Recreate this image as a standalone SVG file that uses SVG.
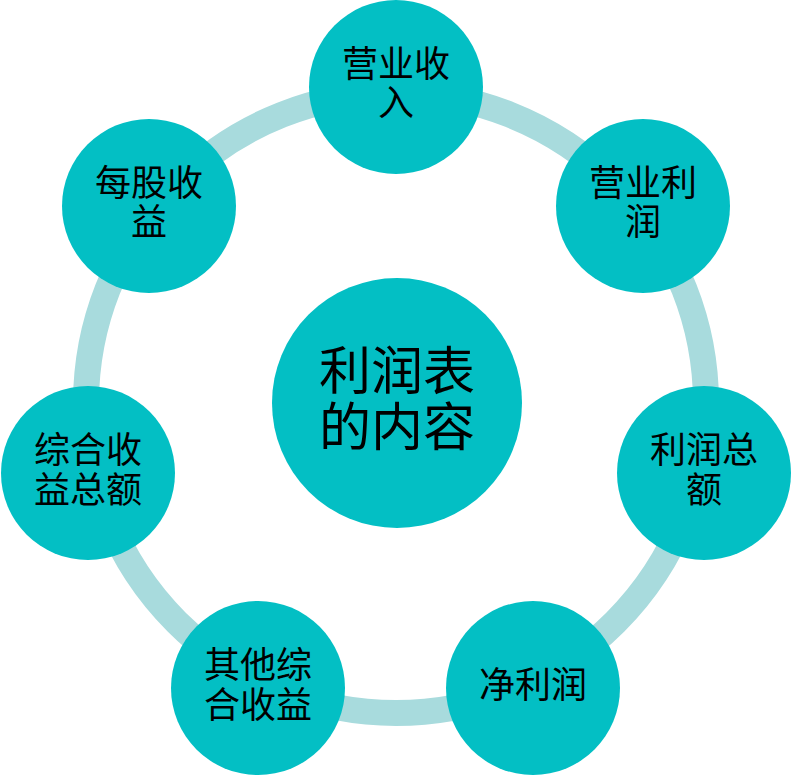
<svg xmlns="http://www.w3.org/2000/svg" width="792" height="777" viewBox="0 0 792 777">
<style>
.node{fill:#03BFC4;}
.ring{fill:none;stroke:#A8DBDD;stroke-width:26;}
.t{font-family:"Noto Sans CJK SC","Noto Sans",sans-serif;font-size:36px;fill:#000;text-anchor:middle;}
.tc{font-family:"Noto Sans CJK SC","Noto Sans",sans-serif;font-size:52px;fill:#000;text-anchor:middle;}
</style>
<rect width="792" height="777" fill="#fff"/>
<g id="connectors">
<circle class="ring" cx="396" cy="403" r="310"/>
</g>
<g id="center">
<circle class="node" cx="397" cy="403" r="125"/>
<text class="tc" x="397" y="390">利润表<tspan x="397" y="446">的内容</tspan></text>
</g>
<g id="n1">
<circle class="node" cx="396" cy="87" r="87"/>
<text class="t" x="396" y="77">营业收<tspan x="396" y="116">入</tspan></text>
</g>
<g id="n2">
<circle class="node" cx="643" cy="206" r="87"/>
<text class="t" x="643" y="196">营业利<tspan x="643" y="235">润</tspan></text>
</g>
<g id="n3">
<circle class="node" cx="704" cy="473" r="87"/>
<text class="t" x="704" y="463">利润总<tspan x="704" y="503">额</tspan></text>
</g>
<g id="n4">
<circle class="node" cx="533" cy="688" r="87"/>
<text class="t" x="533" y="698">净利润</text>
</g>
<g id="n5">
<circle class="node" cx="258" cy="688" r="87"/>
<text class="t" x="258" y="678">其他综<tspan x="258" y="718">合收益</tspan></text>
</g>
<g id="n6">
<circle class="node" cx="88" cy="473" r="87"/>
<text class="t" x="88" y="463">综合收<tspan x="88" y="503">益总额</tspan></text>
</g>
<g id="n7">
<circle class="node" cx="149" cy="206" r="87"/>
<text class="t" x="149" y="196">每股收<tspan x="149" y="235">益</tspan></text>
</g>
</svg>
